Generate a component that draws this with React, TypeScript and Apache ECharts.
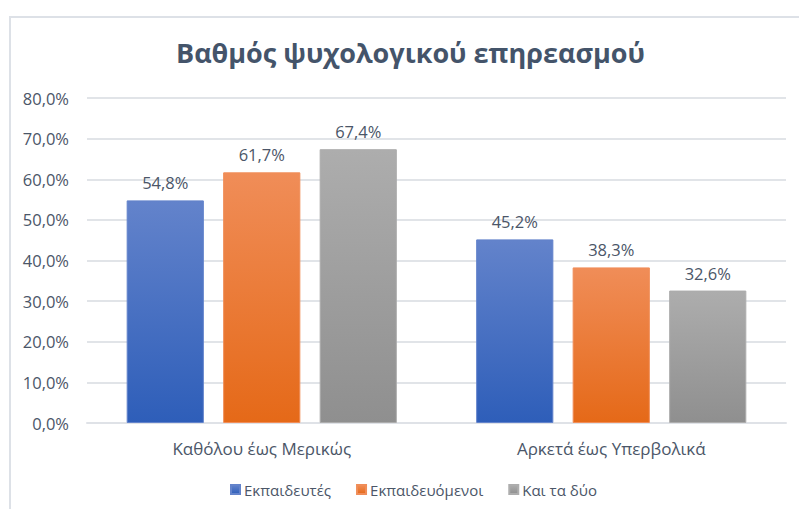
import React, { useEffect, useRef } from "react";
import * as echarts from "echarts";

const categories = ["Καθόλου έως Μερικώς", "Αρκετά έως Υπερβολικά"];
const seriesNames = ["Εκπαιδευτές", "Εκπαιδευόμενοι", "Και τα δύο"];
const educators = [54.8, 45.2];
const trainees = [61.7, 38.3];
const both = [67.4, 32.6];
const yTicks = { min: 0, max: 80, interval: 10 };

const FONT = "'Open Sans', 'Noto Sans', sans-serif";
const TEXT = "#4b5668";

const grad = (top: string, bottom: string) =>
  new echarts.graphic.LinearGradient(0, 0, 0, 1, [
    { offset: 0, color: top },
    { offset: 1, color: bottom },
  ]);

const fmt = (v: number) => v.toFixed(1).replace(".", ",") + "%";

export default function App() {
  const ref = useRef<HTMLDivElement>(null);
  useEffect(() => {
    if (!ref.current) return;
    const chart = echarts.init(ref.current, undefined, { renderer: "svg" });
    const colors = [
      ["#6383cb", "#2e5eb9", "#4472c4"],
      ["#f08d58", "#e56918", "#ed7d31"],
      ["#adadad", "#8f8f8f", "#a5a5a5"],
    ];
    const datas = [educators, trainees, both];
    chart.setOption({
      animation: false,
      title: {
        text: "Βαθμός ψυχολογικού επηρεασμού",
        left: 171,
        top: 34,
        textStyle: { fontFamily: FONT, fontSize: 27, fontWeight: "bold", color: "#44546a" },
      },
      graphic: [
        {
          type: "rect",
          shape: { x: 10, y: 17, width: 900, height: 700 },
          style: { fill: "none", stroke: "#dde1e7", lineWidth: 2 },
          silent: true,
        },
      ],
      legend: {
        top: 477,
        left: 225,
        icon: "rect",
        itemWidth: 9,
        itemHeight: 9,
        itemGap: 25,
        textStyle: { fontFamily: FONT, fontSize: 15, color: TEXT, padding: [0, 0, 0, -1] },
        data: seriesNames,
      },
      grid: { left: 87, right: 13, top: 98, bottom: 86 },
      xAxis: {
        type: "category",
        data: categories,
        axisLine: { lineStyle: { color: "#dfe2e7", width: 2 } },
        axisTick: { show: false },
        axisLabel: { fontFamily: FONT, fontSize: 17, color: TEXT, margin: 17 },
      },
      yAxis: {
        type: "value",
        min: yTicks.min,
        max: yTicks.max,
        interval: yTicks.interval,
        axisLine: { show: false },
        axisTick: { show: false },
        splitLine: { lineStyle: { color: "#e1e4e8", width: 2 } },
        axisLabel: {
          fontFamily: FONT,
          fontSize: 16.5,
          color: TEXT,
          margin: 18,
          formatter: (v: number) => fmt(v),
        },
      },
      series: seriesNames.map((name, i) => ({
        name,
        type: "bar",
        data: datas[i],
        barGap: "25%",
        barCategoryGap: "22.7%",
        itemStyle: {
          color: grad(colors[i][0], colors[i][1]),
          borderColor: colors[i][0],
          borderWidth: 1,
        },
        label: {
          show: true,
          position: "top",
          distance: 9,
          fontFamily: FONT,
          fontSize: 16.5,
          color: TEXT,
          formatter: (p: any) => fmt(p.value),
        },
      })),
      color: colors.map((c) => c[2]),
    });
    return () => chart.dispose();
  }, []);
  return <div ref={ref} style={{ width: 799, height: 509, position: "absolute", left: 0, top: 0 }} />;
}
